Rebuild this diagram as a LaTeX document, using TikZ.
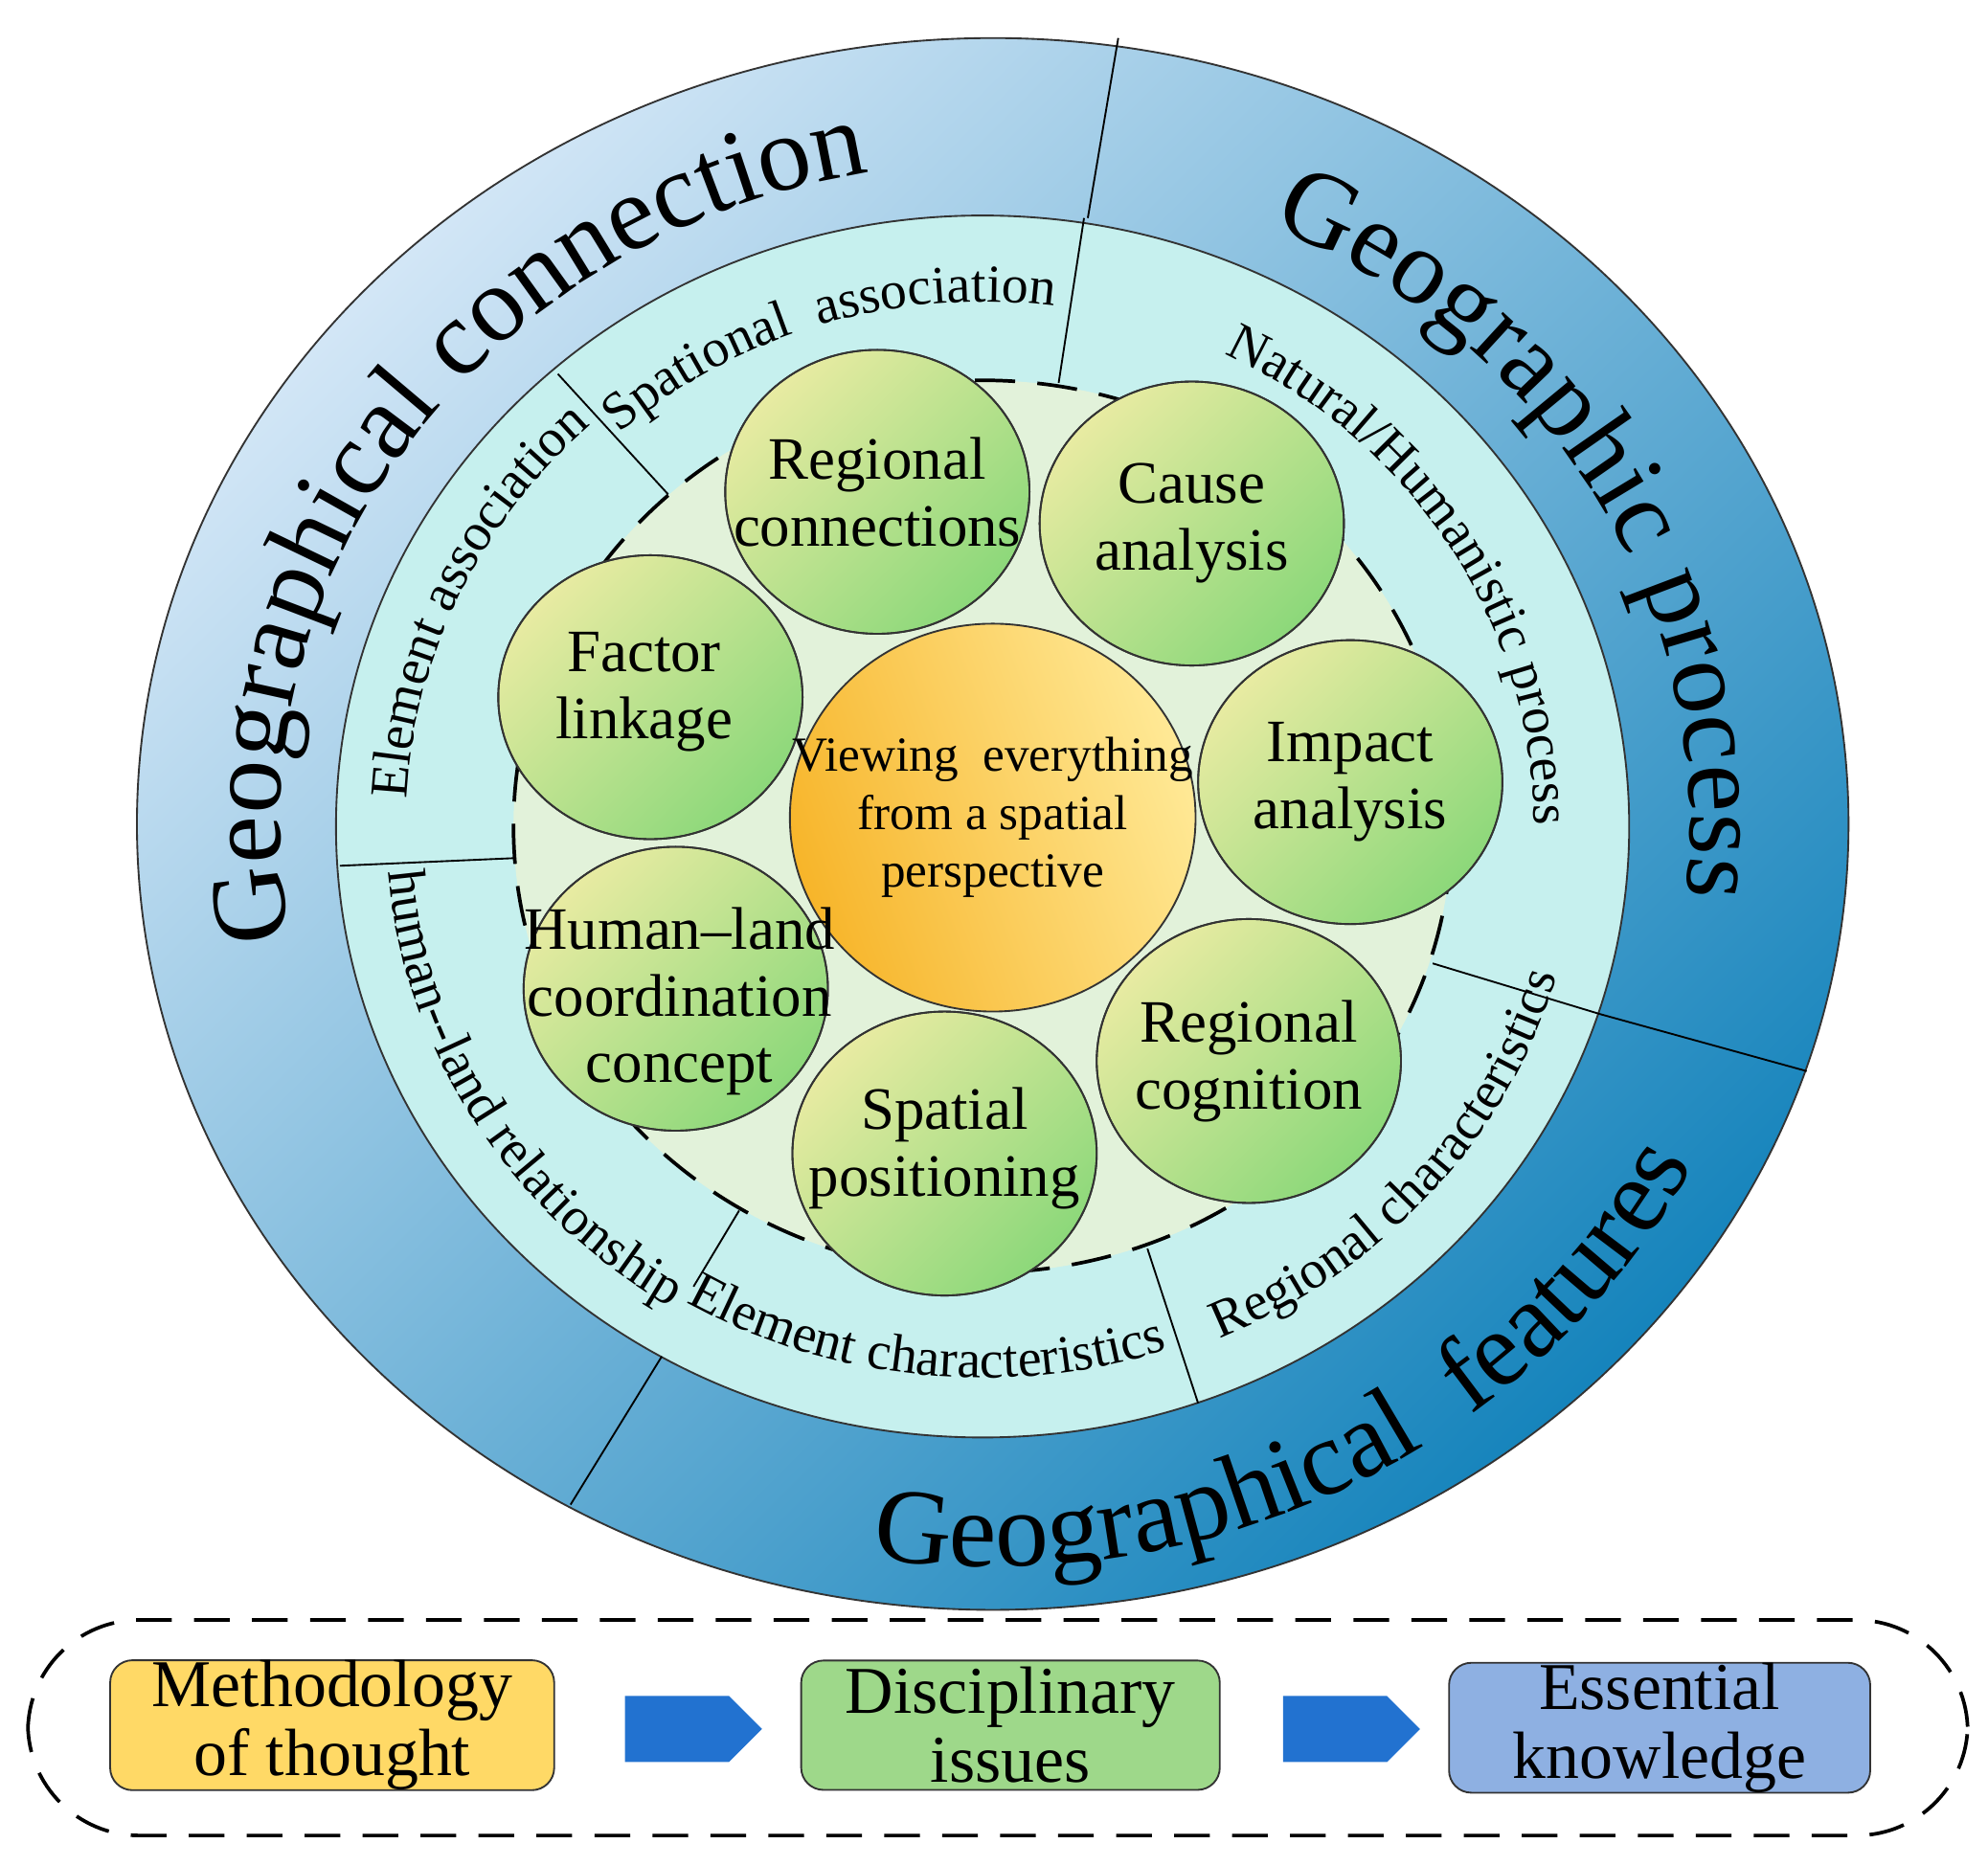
\documentclass[tikz,border=0pt]{standalone}
\usepackage{fontspec}
\setmainfont{Liberation Serif}
\usetikzlibrary{decorations.text,shapes.arrows,shapes.geometric}
\definecolor{ringC}{HTML}{C6F0EE}
\definecolor{innerC}{HTML}{E2F2DA}
\definecolor{cirA}{HTML}{E8EBA2}
\definecolor{cirB}{HTML}{8CD87A}
\definecolor{cenA}{HTML}{FFE996}
\definecolor{cenB}{HTML}{F7B52A}
\definecolor{outA}{HTML}{D2E6F6}
\definecolor{outB}{HTML}{1684BC}
\definecolor{legY}{HTML}{FFD966}
\definecolor{legG}{HTML}{9ED88A}
\definecolor{legB}{HTML}{8EB0E2}
\definecolor{arrB}{HTML}{2272D0}
\tikzset{
 smallc/.style={draw=black!80,thin,left color=cirA,right color=cirB,shading angle=45},
 smallt/.style={align=center,inner sep=0pt,font=\fontsize{13.5}{15}\selectfont},
 legbox/.style={draw=black!80,rounded corners=5,minimum width=3.4cm,minimum height=1.02cm,inner sep=0pt,
   align=center,font=\fontsize{15}{15.5}\selectfont},
 bigarrow/.style={single arrow,draw=none,fill=arrB,minimum height=1.08cm,minimum width=0.52cm,
   single arrow head extend=0pt,inner sep=0pt},
 ringtxt/.style={decorate,decoration={text along path,text align=center,
   text format delimiters={|}{|}}},
 sep/.style={draw=black,thin}
}
\begin{document}
\begin{tikzpicture}[x=0.01cm,y=0.01cm]
\useasboundingbox (0,0) rectangle (1568,-1472);
% outer ring
\shade[left color=outA,right color=outB,shading angle=45] (783,-650) ellipse [x radius=675,y radius=620];
\draw[black!80] (783,-650) ellipse [x radius=675,y radius=620];
\filldraw[fill=ringC,draw=black!80] (775,-652) ellipse [x radius=510,y radius=482];
% separators
\draw[sep] (882,-30) -- (858,-172);
\draw[sep] (1425,-845) -- (1262,-800);
\draw[sep] (450,-1187) -- (522,-1070);
\draw[sep] (855,-172) -- (835,-302);
\draw[sep] (440,-295) -- (527,-390);
\draw[sep] (268,-683) -- (405,-677);
\draw[sep] (583,-955) -- (547,-1015);
\draw[sep] (905,-985) -- (945,-1107);
\draw[sep] (1130,-760) -- (1262,-800);
% inner dashed
\filldraw[fill=innerC,draw=black,thick,dash pattern=on 9pt off 5pt] (775,-652) ellipse [x radius=370,y radius=352];
% outer labels
\path[ringtxt,decoration={text={|\fontsize{24}{24}\selectfont|Geographical connection}}]
 (783,-650) ++(190:562 and 522) arc[start angle=190,end angle=100,x radius=562,y radius=522];
\path[ringtxt,decoration={text={|\fontsize{24}{24}\selectfont|Geographic process}}]
 (783,-650) ++(68:550 and 514) arc[start angle=68,end angle=-8,x radius=550,y radius=514];
\path[ringtxt,decoration={text={|\fontsize{24}{24}\selectfont|Geographical\ \ features}}]
 (783,-650) ++(258:622 and 586) arc[start angle=258,end angle=336,x radius=622,y radius=586];
% middle ring labels
\path[ringtxt,decoration={text={|\fontsize{12}{12}\selectfont|Spational\ \ association}}]
 (775,-652) ++(134:432 and 414) arc[start angle=134,end angle=80,x radius=432,y radius=414];
\path[ringtxt,decoration={text={|\fontsize{12}{12}\selectfont|Natural/Humanistic process}}]
 (775,-652) ++(68:435 and 415) arc[start angle=68,end angle=-4,x radius=435,y radius=415];
\path[ringtxt,decoration={text={|\fontsize{12}{12}\selectfont|Element association}}]
 (775,-652) ++(180:455 and 432) arc[start angle=180,end angle=130,x radius=455,y radius=432];
\path[ringtxt,decoration={text={|\fontsize{12}{12}\selectfont|human--land relationship}}]
 (775,-652) ++(183:470 and 445) arc[start angle=183,end angle=240,x radius=470,y radius=445];
\path[ringtxt,decoration={text={|\fontsize{12}{12}\selectfont|Element characteristics}}]
 (775,-652) ++(238:462 and 435) arc[start angle=238,end angle=290,x radius=462,y radius=435];
\path[ringtxt,decoration={text={|\fontsize{12}{12}\selectfont|Regional characteristics}}]
 (775,-652) ++(292:470 and 440) arc[start angle=292,end angle=346,x radius=470,y radius=440];
% circles
\shade[smallc] (692,-388) ellipse[x radius=120,y radius=112];
\shade[smallc] (940,-413) ellipse[x radius=120,y radius=112];
\shade[smallc] (513,-550) ellipse[x radius=120,y radius=112];
\shade[smallc] (1065,-617) ellipse[x radius=120,y radius=112];
\shade[smallc] (533,-780) ellipse[x radius=120,y radius=112];
\shade[smallc] (745,-910) ellipse[x radius=120,y radius=112];
\shade[smallc] (985,-837) ellipse[x radius=120,y radius=112];
\foreach \p in {(692,-388),(940,-413),(513,-550),(1065,-617),(533,-780),(745,-910),(985,-837)}
  \draw[black!80] \p ellipse[x radius=120,y radius=112];
\node[smallt] (rc) at (692,-388) {Regional\\connections};
\node[smallt] (ca) at (940,-413) {Cause\\analysis};
\node[smallt] (fl) at (508,-546) {Factor\\linkage};
\node[smallt] (ia) at (1065,-617) {Impact\\analysis};
\node[smallt] (rg) at (985,-837) {Regional\\cognition};
\shade[left color=cenA,right color=cenB,shading angle=290] (783,-645) ellipse[x radius=160,y radius=153];
\draw[black!80] (783,-645) ellipse[x radius=160,y radius=153];
\node[align=center,inner sep=0pt,font=\fontsize{11}{13}\selectfont] (ctr) at (783,-645) {Viewing\ \ everything\\from a spatial\\perspective};
\node[smallt] (hl) at (536,-790) {Human--land\\coordination\\concept};
\node[smallt] (sp) at (745,-906) {Spatial\\positioning};
% legend
\draw[thick,dash pattern=on 8pt off 5pt,rounded corners=25] (22,-1278) rectangle (1552,-1448);
\node[legbox,fill=legY,minimum width=3.5cm] (m) at (262,-1361) {Methodology\\of thought};
\node[legbox,fill=legG,minimum width=3.3cm] (d) at (797,-1361) {Disciplinary\\issues};
\node[legbox,fill=legB,minimum width=3.32cm] (e) at (1309,-1363) {Essential\\knowledge};
\node[bigarrow] (a1) at (534,-1364) {};
\node[bigarrow] (a2) at (1053,-1364) {};
\end{tikzpicture}
\end{document}
